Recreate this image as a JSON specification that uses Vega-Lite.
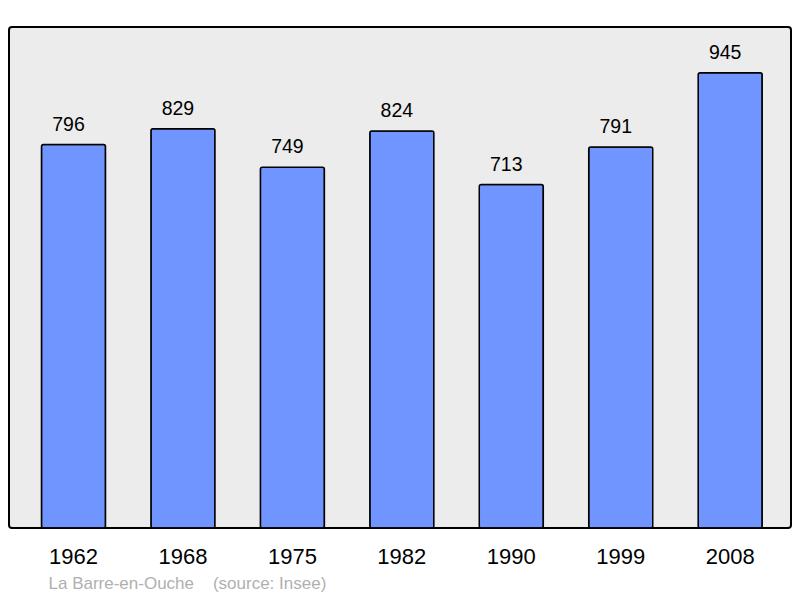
{
  "$schema": "https://vega.github.io/schema/vega-lite/v6.json",
  "width": 782,
  "height": 501,
  "autosize": {"type": "none"},
  "padding": {"left": 9, "top": 27, "right": 9, "bottom": 70},
  "background": "white",
  "config": {
    "font": "Liberation Sans",
    "view": {"fill": "#ececec", "stroke": "black", "strokeWidth": 2, "cornerRadius": 3}
  },
  "data": {
    "values": [
      {"year": "1962", "pop": 796},
      {"year": "1968", "pop": 829},
      {"year": "1975", "pop": 749},
      {"year": "1982", "pop": 824},
      {"year": "1990", "pop": 713},
      {"year": "1999", "pop": 791},
      {"year": "2008", "pop": 945}
    ]
  },
  "encoding": {
    "x": {
      "field": "year",
      "type": "nominal",
      "scale": {"paddingInner": 0.415, "paddingOuter": 0.28, "align": 0.53},
      "axis": {
        "title": "La Barre-en-Ouche\u00a0\u00a0\u00a0\u00a0(source: Insee)",
        "titleFontSize": 17,
        "titleFontWeight": "normal",
        "titleColor": "#b0b0b0",
        "titleAnchor": "start",
        "titleAlign": "left",
        "titleBaseline": "alphabetic",
        "titleX": 39,
        "titleY": 60,
        "labelAngle": 0,
        "labelFontSize": 22,
        "labelColor": "black",
        "labelPadding": 18,
        "ticks": false,
        "domain": false
      }
    },
    "y": {
      "field": "pop",
      "type": "quantitative",
      "scale": {"domain": [0, 1040], "nice": false},
      "axis": null
    }
  },
  "layer": [
    {
      "mark": {"type": "bar", "fill": "#7095ff", "stroke": "black", "strokeWidth": 1.5, "cornerRadius": 2}
    },
    {
      "mark": {"type": "text", "fontSize": 19.5, "baseline": "alphabetic", "dx": -5, "dy": -14, "color": "black"},
      "encoding": {"text": {"field": "pop", "type": "quantitative"}}
    }
  ]
}
